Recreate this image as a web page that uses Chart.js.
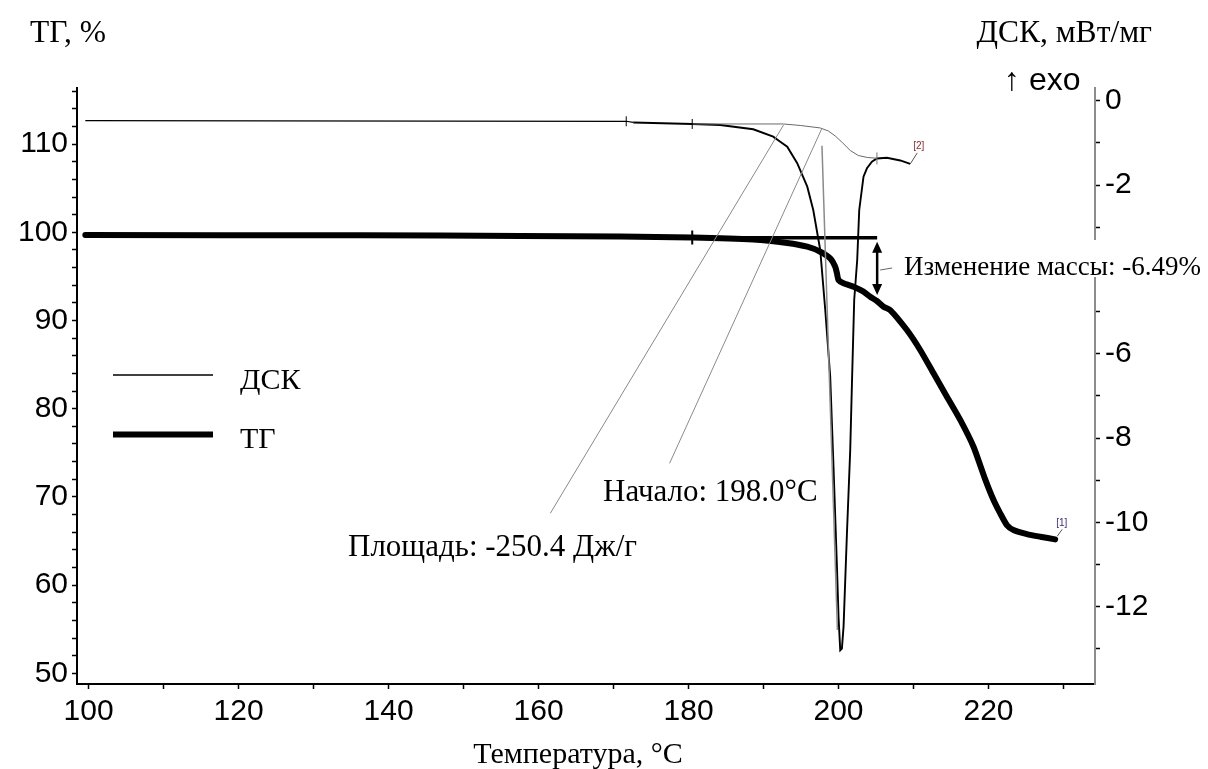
<!DOCTYPE html>
<html><head><meta charset="utf-8">
<script src="https://cdn.jsdelivr.net/npm/chart.js@4.4.0/dist/chart.umd.min.js"></script>
<style>html,body{margin:0;padding:0;background:#fff;overflow:hidden}#wrap{width:1208px;height:769px;position:relative}</style>
</head><body><div id="wrap"><canvas id="c" width="1208" height="769"></canvas></div>
<script>
// ---- data ----
const dscT = [99.56,171.69,172.63,180.49,184.23,188.63,191.29,192.23,193.16,194.49,195.83,196.63,197.56,198.23,198.89,199.33,199.79,200.0,200.23,200.45,200.67,201.12,201.56,201.79,202.09,202.49,202.76,203.33,203.79,204.45,205.12,206.45,208.23,209.56];
const dscV = [-0.474,-0.489,-0.517,-0.553,-0.576,-0.678,-0.854,-0.972,-1.091,-1.484,-2.039,-2.592,-3.540,-4.963,-6.545,-8.679,-11.05,-12.24,-13.03,-12.99,-12.47,-10.26,-8.283,-6.694,-4.726,-3.778,-2.592,-1.802,-1.603,-1.447,-1.371,-1.354,-1.418,-1.501];
const tgT = [99.56,136.23,157.56,170.89,180.49,188.63,193.16,195.83,197.56,198.89,199.56,199.79,200.0,200.67,202.0,203.33,204.23,205.12,206.0,206.89,209.12,210.89,212.67,214.45,216.23,218.0,219.56,220.67,221.56,222.45,223.33,225.12,226.89,228.89];
const tgV = [99.69,99.66,99.58,99.52,99.41,99.18,98.79,98.37,97.80,97.05,96.10,95.35,94.59,94.22,93.83,93.27,92.70,92.21,91.56,91.19,88.92,86.66,84.01,81.36,78.73,75.69,71.99,69.65,68.14,66.81,66.25,65.79,65.49,65.19];
const baseT = [180.49,192.63,194.89,197.56,198.63,199.56,200.49,201.56,202.63,203.83,205.12];
const baseV = [-0.553,-0.553,-0.588,-0.647,-0.718,-0.837,-0.991,-1.181,-1.300,-1.347,-1.366];
const tangentAT = [192.67,161.56], tangentAV = [-0.576,-9.784];
const tangentBT = [197.79,177.47], tangentBV = [-0.654,-8.599];
const onsetLineT = [197.79,199.85], onsetLineV = [-1.07,-12.55];
const refT = [180.5,205.15], refV = [99.39,99.39];
const massArrowT = 205.15, massArrowV = [99.39,92.9];
const limitT = [171.69,180.49,205.12];
const xMajor = [100,120,140,160,180,200,220];
const xMinor = [110,130,150,170,190,210,230];
const tgMajor = [50,60,70,80,90,100,110];
const tgMinor = [52,54,56,58,62,64,66,68,72,74,76,78,82,84,86,88,92,94,96,98,102,104,106,108,112,114,116];
const dscMajor = [0,-2,-4,-6,-8,-10,-12];
const dscMinor = [-1,-3,-5,-7,-9,-11,-13];
const dscHiddenLabels = [-4]; // covered by the mass-change label in the original
const texts = {
  tgTitle:'ТГ, %', dscTitle:'ДСК, мВт/мг', exo:'↑ exo', xTitle:'Температура, °C',
  mass:'Изменение массы: -6.49%', onset:'Начало: 198.0°C', area:'Площадь: -250.4 Дж/г',
  legDsc:'ДСК', legTg:'ТГ'
};

const pts = (xs, ys) => xs.map((x,i)=>({x:x,y:ys[i]}));
const tickFont = {family:'"Liberation Sans", Arial, sans-serif', size:30};
const serif = '"Liberation Serif", "Times New Roman", serif';

const overlay = {
  id:'overlay',
  afterDraw(chart){
    const ctx = chart.ctx, sx = chart.scales.x, sy = chart.scales.y, s2 = chart.scales.y2;
    ctx.save();
    // integration limit ticks
    ctx.strokeStyle='#000'; ctx.lineWidth=1;
    [0,1].forEach(i=>{
      const px = sx.getPixelForValue(limitT[i]);
      const py = s2.getPixelForValue(dscV[dscT.indexOf(limitT[i])]);
      ctx.beginPath(); ctx.moveTo(px,py-5); ctx.lineTo(px,py+5); ctx.stroke();
    });
    ctx.strokeStyle='#777';
    {
      const px = sx.getPixelForValue(limitT[2]), py = s2.getPixelForValue(dscV[dscT.indexOf(limitT[2])]);
      ctx.beginPath(); ctx.moveTo(px,py-6); ctx.lineTo(px,py+6); ctx.stroke();
    }
    ctx.strokeStyle='#000'; ctx.lineWidth=2;
    {
      const px = sx.getPixelForValue(limitT[1]), py = sy.getPixelForValue(tgV[tgT.indexOf(limitT[1])]);
      ctx.beginPath(); ctx.moveTo(px,py-7); ctx.lineTo(px,py+7); ctx.stroke();
    }
    // mass change arrow
    const ax = sx.getPixelForValue(massArrowT);
    const a1 = sy.getPixelForValue(massArrowV[0]) + 4, a2 = sy.getPixelForValue(massArrowV[1]);
    ctx.fillStyle='#000'; ctx.lineWidth=2.5;
    ctx.beginPath(); ctx.moveTo(ax,a1+8); ctx.lineTo(ax,a2-8); ctx.stroke();
    ctx.beginPath(); ctx.moveTo(ax,a1); ctx.lineTo(ax-5,a1+11); ctx.lineTo(ax+5,a1+11); ctx.closePath(); ctx.fill();
    ctx.beginPath(); ctx.moveTo(ax,a2); ctx.lineTo(ax-5,a2-11); ctx.lineTo(ax+5,a2-11); ctx.closePath(); ctx.fill();
    ctx.strokeStyle='#666'; ctx.lineWidth=1;
    ctx.beginPath(); ctx.moveTo(ax+3,270); ctx.lineTo(ax+15,268); ctx.stroke();
    // end markers
    const e1x = sx.getPixelForValue(tgT[tgT.length-1]), e1y = sy.getPixelForValue(tgV[tgV.length-1]);
    const e2x = sx.getPixelForValue(dscT[dscT.length-1]), e2y = s2.getPixelForValue(dscV[dscV.length-1]);
    ctx.strokeStyle='#555'; ctx.lineWidth=1;
    ctx.beginPath(); ctx.moveTo(e1x+2,e1y-3); ctx.lineTo(e1x+7,e1y-10); ctx.stroke();
    ctx.beginPath(); ctx.moveTo(e2x,e2y); ctx.lineTo(e2x+7,e2y-11); ctx.stroke();
    ctx.font='10px "Liberation Sans", Arial, sans-serif'; ctx.textBaseline='alphabetic';
    ctx.fillStyle='#3a2a8a'; ctx.fillText('[1]', e1x+1, e1y-13);
    ctx.fillStyle='#8a2a2a'; ctx.fillText('[2]', e2x+3, e2y-15);
    // legend
    ctx.strokeStyle='#000';
    ctx.lineWidth=1.5; ctx.beginPath(); ctx.moveTo(113,375); ctx.lineTo(213,375); ctx.stroke();
    ctx.lineWidth=6; ctx.beginPath(); ctx.moveTo(113,434.5); ctx.lineTo(213,434.5); ctx.stroke();
    ctx.fillStyle='#000';
    ctx.font='30px '+serif; ctx.textAlign='left';
    ctx.fillText(texts.legDsc, 240, 389);
    ctx.fillText(texts.legTg, 240, 448);
    // annotations
    ctx.font='31px '+serif;
    ctx.fillText(texts.onset, 603, 501);
    ctx.fillText(texts.area, 348, 556);
    // mass-change label on white box (breaks the right axis behind it)
    ctx.fillStyle='#fff';
    ctx.fillRect(898, 240, 310, 37);
    ctx.fillStyle='#000';
    ctx.font='27px '+serif;
    ctx.fillText(texts.mass, 904, 275);
    // titles
    ctx.font='31.5px '+serif;
    ctx.fillText(texts.tgTitle, 30, 42);
    ctx.textAlign='right';
    ctx.fillText(texts.dscTitle, 1152, 42);
    ctx.textAlign='center';
    ctx.font='30px '+serif;
    ctx.fillText(texts.xTitle, 578, 763);
    ctx.textAlign='left';
    ctx.font='32px "Liberation Sans", Arial, sans-serif';
    ctx.fillText(texts.exo, 1004, 90);
    ctx.restore();
  }
};

function setTicks(major, minor){
  return function(scale){ scale.ticks = major.concat(minor).sort((a,b)=>a-b).map(v=>({value:v})); };
}
const majorSet = (arr, hidden)=> (v)=> (arr.indexOf(v) >= 0 && !(hidden && hidden.indexOf(v) >= 0)) ? String(v) : '';

const gridOpts = {drawOnChartArea:false, drawTicks:true, tickLength:5, tickColor:'#000', tickWidth:1.5};

new Chart(document.getElementById('c'), {
  type:'scatter',
  data:{datasets:[
    {label:'tangentA', data:pts(tangentAT,tangentAV), yAxisID:'y2', showLine:true, borderColor:'#8a8a8a', borderWidth:1, pointRadius:0},
    {label:'tangentB', data:pts(tangentBT,tangentBV), yAxisID:'y2', showLine:true, borderColor:'#8a8a8a', borderWidth:1, pointRadius:0},
    {label:'onset', data:pts(onsetLineT,onsetLineV), yAxisID:'y2', showLine:true, borderColor:'#8a8a8a', borderWidth:1.5, pointRadius:0},
    {label:'baseline', data:pts(baseT,baseV), yAxisID:'y2', showLine:true, borderColor:'#6a6a6a', borderWidth:1, pointRadius:0},
    {label:'ДСК', data:pts(dscT,dscV), yAxisID:'y2', showLine:true, borderColor:'#000', borderWidth:1.8, pointRadius:0, tension:0,
     segment:{borderWidth:(c)=> c.p0DataIndex < 2 ? 1.2 : 1.9}},
    {label:'ref', data:pts(refT,refV), yAxisID:'y', showLine:true, borderColor:'#000', borderWidth:3.5, pointRadius:0},
    {label:'ТГ', data:pts(tgT,tgV), yAxisID:'y', showLine:true, borderColor:'#000', borderWidth:6, pointRadius:0, tension:0.2, borderJoinStyle:'round', borderCapStyle:'round'}
  ]},
  options:{
    responsive:false, animation:false, events:[],
    layout:{padding:{top:88,left:0,right:0,bottom:0}},
    plugins:{legend:{display:false}, tooltip:{enabled:false}},
    scales:{
      x:{type:'linear', position:'bottom', min:98.45, max:234.2,
         afterBuildTicks:setTicks(xMajor,xMinor),
         ticks:{callback:majorSet(xMajor), font:tickFont, color:'#000', padding:5, maxRotation:0, autoSkip:false},
         grid:gridOpts, border:{display:true, color:'#000', width:2},
         afterFit(s){ s.height = 85; }},
      y:{type:'linear', position:'left', min:48.79, max:116.36,
         afterBuildTicks:setTicks(tgMajor,tgMinor),
         ticks:{callback:majorSet(tgMajor), font:tickFont, color:'#000', padding:4, autoSkip:false},
         grid:gridOpts, border:{display:true, color:'#000', width:2},
         afterFit(s){ s.width = 77; }},
      y2:{type:'linear', position:'right', min:-13.83, max:0.30,
         afterBuildTicks:setTicks(dscMajor,dscMinor),
         ticks:{callback:majorSet(dscMajor, dscHiddenLabels), font:tickFont, color:'#000', padding:5, autoSkip:false},
         grid:gridOpts, border:{display:true, color:'#8c8c8c', width:2},
         afterFit(s){ s.width = 113; }}
    }
  },
  plugins:[overlay]
});
</script></body></html>
